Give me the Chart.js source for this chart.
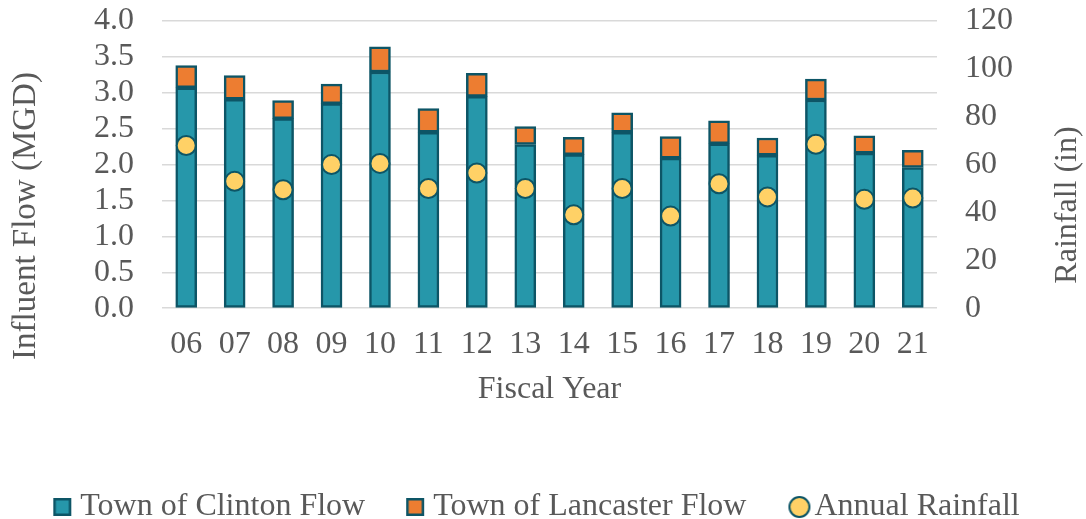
<!DOCTYPE html>
<html>
<head>
<meta charset="utf-8">
<script src="https://cdn.jsdelivr.net/npm/chart.js@4"></script>
<style>
  html, body { margin: 0; padding: 0; background: #fff; }
  #wrap { width: 1086px; height: 519px; }
</style>
</head>
<body>
<div id="wrap"><canvas id="flowChart"></canvas></div>
<script>
// Fiscal years and values
const years = ['06', '07', '08', '09', '10', '11', '12', '13', '14', '15', '16', '17', '18', '19', '20', '21'];
const clintonFlow = [3.07, 2.91, 2.64, 2.85, 3.29, 2.45, 2.95, 2.28, 2.14, 2.45, 2.09, 2.29, 2.13, 2.90, 2.16, 1.96];
const lancasterFlow = [0.31, 0.33, 0.25, 0.27, 0.35, 0.33, 0.32, 0.25, 0.24, 0.27, 0.30, 0.32, 0.24, 0.29, 0.24, 0.24];
const rainfall = [68, 53, 49.5, 60, 60.5, 50, 56.5, 50, 39, 50, 38.5, 52, 46.5, 68.5, 45.5, 46];

const textColor = '#595959';
const darkTeal = '#0D5566';
const clintonColor = '#2697AA';
const lancasterColor = '#ED7D31';
const rainColor = '#FFD166';
const fontFamily = "'Liberation Serif', 'Times New Roman', serif";
const fontSize = 32;

// legend markers: each canvas is wider than the legend box, so the marker can be
// placed right next to its text and the blank left part spaces the items
const markerBox = 52;
function legendMarker(fill, round) {
    const c = document.createElement('canvas');
    c.width = 84;
    c.height = 24;
    const g = c.getContext('2d');
    g.fillStyle = fill;
    g.strokeStyle = darkTeal;
    if (round) {
        g.lineWidth = 2;
        g.beginPath();
        g.arc(69, 12, 10, 0, Math.PI * 2);
        g.fill();
        g.stroke();
    } else {
        g.lineWidth = 2.5;
        g.fillRect(57, 3, 18, 18);
        g.strokeRect(58.25, 4.25, 15.5, 15.5);
    }
    return c;
}

// axis titles drawn by hand so they sit where the original puts them
const axisTitles = {
    id: 'axisTitles',
    afterDraw(chart) {
        const ctx = chart.ctx;
        [['Influent Flow (MGD)', 26, 216, 33], ['Rainfall (in)', 1068, 205, 32]].forEach(t => {
            ctx.save();
            ctx.fillStyle = textColor;
            ctx.font = t[3] + 'px ' + fontFamily;
            ctx.textAlign = 'center';
            ctx.textBaseline = 'middle';
            ctx.translate(t[1], t[2]);
            ctx.rotate(-Math.PI / 2);
            ctx.fillText(t[0], 0, 0);
            ctx.restore();
        });
    }
};

// vertical axes: fixed widths and no extra room above/below the plot
function fitVertical(width) {
    return function(scale) {
        scale.width = width;
        scale.paddingTop = 0;
        scale.paddingBottom = 0;
    };
}

const ctx = document.getElementById('flowChart').getContext('2d');
const chart = new Chart(ctx, {
    type: 'bar',
    data: {
        labels: years,
        datasets: [
            {
                type: 'line',
                label: 'Annual Rainfall',
                data: rainfall,
                yAxisID: 'y1',
                showLine: false,
                pointRadius: 9.5,
                pointBorderWidth: 2,
                pointBackgroundColor: rainColor,
                pointBorderColor: darkTeal,
                backgroundColor: rainColor,
                borderColor: darkTeal,
                order: 0
            },
            {
                label: 'Town of Clinton Flow',
                data: clintonFlow,
                backgroundColor: clintonColor,
                borderColor: darkTeal,
                borderWidth: 2.5,
                borderSkipped: false,
                barThickness: 21,
                stack: 'flow',
                yAxisID: 'y',
                order: 1
            },
            {
                label: 'Town of Lancaster Flow',
                data: lancasterFlow,
                backgroundColor: lancasterColor,
                borderColor: darkTeal,
                borderWidth: 2.5,
                borderSkipped: false,
                barThickness: 21,
                stack: 'flow',
                yAxisID: 'y',
                order: 2
            }
        ]
    },
    options: {
        responsive: true,
        maintainAspectRatio: false,
        animation: false,
        layout: {
            padding: { left: 0, right: 54, top: 21, bottom: -14 }
        },
        plugins: {
            tooltip: { enabled: false },
            legend: {
                position: 'bottom',
                labels: {
                    color: textColor,
                    font: { family: fontFamily, size: fontSize },
                    usePointStyle: true,
                    pointStyleWidth: markerBox,
                    boxHeight: 20,
                    padding: 0,
                    generateLabels(chart) {
                        const ds = chart.data.datasets;
                        return [
                            { text: ds[1].label, datasetIndex: 1, fillStyle: clintonColor, strokeStyle: darkTeal, lineWidth: 0, fontColor: textColor, pointStyle: legendMarker(clintonColor, false) },
                            { text: ds[2].label, datasetIndex: 2, fillStyle: lancasterColor, strokeStyle: darkTeal, lineWidth: 0, fontColor: textColor, pointStyle: legendMarker(lancasterColor, false) },
                            { text: ds[0].label, datasetIndex: 0, fillStyle: rainColor, strokeStyle: darkTeal, lineWidth: 0, fontColor: textColor, pointStyle: legendMarker(rainColor, true) }
                        ];
                    }
                }
            }
        },
        scales: {
            x: {
                stacked: true,
                grid: { display: false, drawTicks: false },
                border: { display: false },
                ticks: {
                    color: textColor,
                    font: { family: fontFamily, size: fontSize },
                    padding: 17
                },
                title: {
                    display: true,
                    text: 'Fiscal Year',
                    color: textColor,
                    font: { family: fontFamily, size: fontSize },
                    padding: { top: -10, bottom: 82 }
                }
            },
            y: {
                stacked: true,
                min: 0,
                max: 4,
                position: 'left',
                border: { display: false },
                grid: { color: '#D9D9D9', lineWidth: 1.5, drawTicks: false },
                ticks: {
                    stepSize: 0.5,
                    autoSkip: false,
                    color: textColor,
                    font: { family: fontFamily, size: fontSize },
                    padding: 28,
                    callback: v => v.toFixed(1)
                },
                afterFit: fitVertical(162)
            },
            y1: {
                min: 0,
                max: 120,
                position: 'right',
                border: { display: false },
                grid: { display: false, drawTicks: false },
                ticks: {
                    stepSize: 20,
                    autoSkip: false,
                    color: textColor,
                    font: { family: fontFamily, size: fontSize },
                    padding: 28
                },
                afterFit: fitVertical(95)
            }
        }
    },
    plugins: [axisTitles]
});
</script>
</body>
</html>
